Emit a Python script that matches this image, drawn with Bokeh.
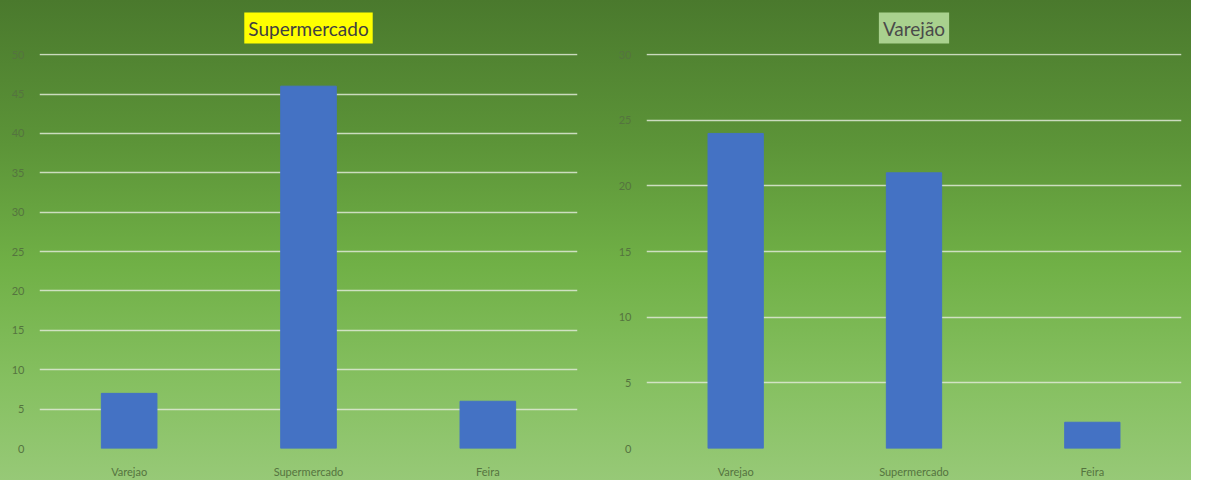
from bokeh.plotting import figure
from bokeh.layouts import row
from bokeh.models import ColumnDataSource, FactorRange, Range1d, SingleIntervalTicker
from bokeh.embed import file_html
from bokeh.resources import INLINE

# Data
categories = ["Varejao", "Supermercado", "Feira"]
supermercado_values = [7, 46, 6]
varejao_values = [24, 21, 2]
titles = ["Supermercado", "Varejão"]

BAR = "#4472c4"
TICK = "#55743f"
FONT = "Lato"


def make_chart(title, values, ymax, width, left, right, title_bg, title_color):
    src = ColumnDataSource(dict(cat=categories, val=values))
    p = figure(x_range=FactorRange(*categories, range_padding=0),
               y_range=Range1d(0, ymax * 1.003),
               width=width, height=480, output_backend="svg",
               toolbar_location=None, tools="",
               min_border_left=left, min_border_right=right,
               min_border_top=8, min_border_bottom=26)
    p.vbar(x="cat", top="val", width=0.31, source=src,
           fill_color=BAR, line_color=BAR)
    p.title.text = title
    p.title.align = "center"
    p.title.text_font = FONT
    p.title.text_font_size = "19px"
    p.title.text_font_style = "normal"
    p.title.text_color = title_color
    p.title.background_fill_color = title_bg
    p.title.padding = 4
    p.title.standoff = 20
    p.background_fill_alpha = 0
    p.border_fill_alpha = 0
    p.outline_line_color = None
    p.xgrid.grid_line_color = None
    p.ygrid.grid_line_color = "#dfe9d6"
    p.ygrid.grid_line_alpha = 0.85
    p.ygrid.grid_line_width = 1.3
    p.yaxis.ticker = SingleIntervalTicker(interval=5)
    for ax in (p.xaxis[0], p.yaxis[0]):
        ax.axis_line_color = None
        ax.major_tick_line_color = None
        ax.minor_tick_line_color = None
        ax.major_label_text_color = TICK
        ax.major_label_text_font = FONT
        ax.major_label_text_font_size = "11px"
    p.yaxis.major_label_standoff = 9
    p.xaxis.major_label_standoff = 10
    return p


p1 = make_chart(titles[0], supermercado_values, 50, 600, 39, 23, "#ffff00", "#404040")
p2 = make_chart(titles[1], varejao_values, 30, 591, 46, 10, "#a9d18e", "#4a4a4a")

p = row(p1, p2, width=1191, height=480,
        styles={"background": "linear-gradient(180deg, #4a792d 0%, #5c9438 30%, #70b046 55%, #86c061 80%, #97c977 100%)"})

open("out.html", "w").write(file_html(p, INLINE))
